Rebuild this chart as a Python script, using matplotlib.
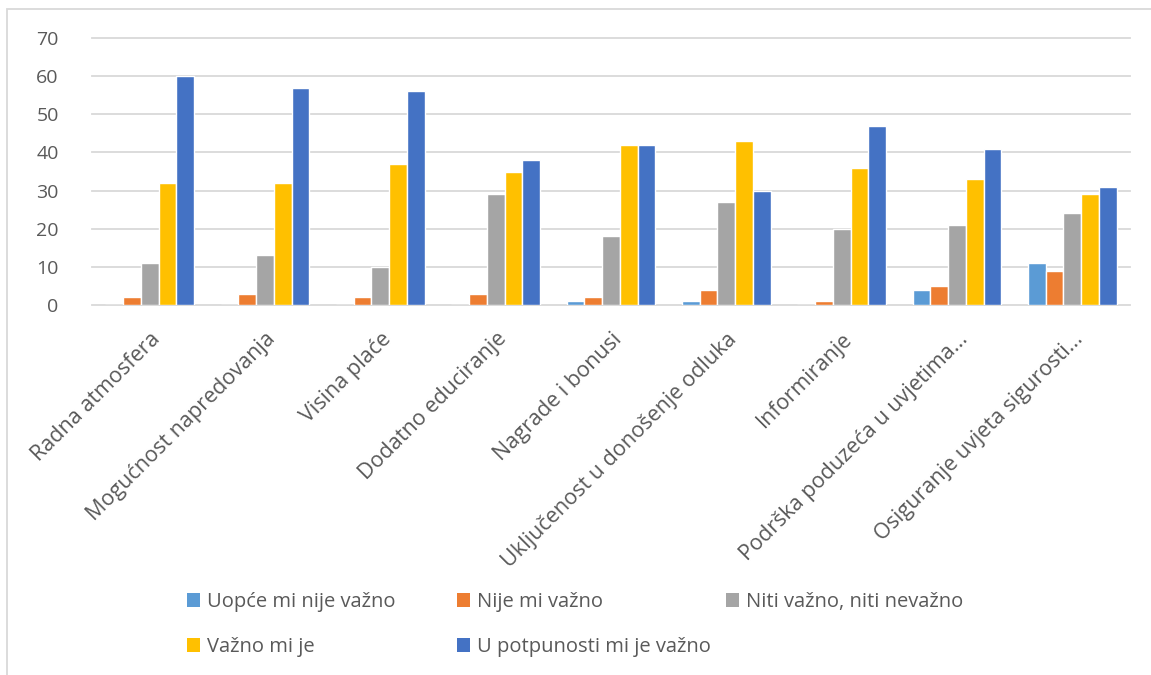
import matplotlib
matplotlib.use("Agg")
import matplotlib.pyplot as plt
import numpy as np
from matplotlib.patches import Rectangle, Patch

categories = ["Radna atmosfera", "Mogućnost napredovanja", "Visina plaće",
              "Dodatno educiranje", "Nagrade i bonusi",
              "Uključenost u donošenje odluka", "Informiranje",
              "Podrška poduzeća u uvjetima...", "Osiguranje uvjeta sigurosti..."]

series_names = ["Uopće mi nije važno", "Nije mi važno", "Niti važno, niti nevažno",
                "Važno mi je", "U potpunosti mi je važno"]

uopce = [0, 0, 0, 0, 1, 1, 0, 4, 11]
nije = [2, 3, 2, 3, 2, 4, 1, 5, 9]
niti = [11, 13, 10, 29, 18, 27, 20, 21, 24]
vazno = [32, 32, 37, 35, 42, 43, 36, 33, 29]
potpuno = [60, 57, 56, 38, 42, 30, 47, 41, 31]

colors = ["#5B9BD5", "#ED7D31", "#A5A5A5", "#FFC000", "#4472C4"]
text_col = "#595959"

plt.rcParams["font.family"] = ["Open Sans", "DejaVu Sans"]

W, H = 1151, 675
fig = plt.figure(figsize=(W / 100, H / 100), dpi=100)
ax = fig.add_axes([92 / W, 1 - 305 / H, (1130 - 92) / W, (305 - 38) / H])

# chart border (cropped on right and bottom)
fig.patches.append(Rectangle((7 / W, -0.05), 1.1, 1 - 9 / H + 0.05,
                             transform=fig.transFigure, fill=False,
                             edgecolor="#d9d9d9", linewidth=1.3))

x = np.arange(len(categories))
data = [uopce, nije, niti, vazno, potpuno]
bw = 0.1535
for k, (vals, c) in enumerate(zip(data, colors)):
    ax.bar(x + (k - 2) * bw, vals, width=bw, color=c, edgecolor="white",
           linewidth=1.0, zorder=3)

ax.set_xlim(-0.5, len(categories) - 0.5)
ax.set_ylim(0, 70)
ax.set_yticks(range(0, 71, 10))
ax.grid(axis="y", color="#d9d9d9", linewidth=1.3, zorder=0)
for ln in ax.get_ygridlines():
    ln.set_clip_on(False)
for s in ax.spines.values():
    s.set_visible(False)

ax.tick_params(axis="y", length=0, pad=24, labelsize=14, labelcolor=text_col)
ax.tick_params(axis="x", length=0, pad=17, labelsize=15.5, labelcolor=text_col)
ax.set_xticks(x)
ax.set_xticklabels(categories, rotation=45, ha="right", va="top",
                   rotation_mode="anchor")

# legend: three columns like the Excel layout
col_x = [187, 457, 726]
for j in range(3):
    idx = [i for i in (j, j + 3) if i < len(series_names)]
    handles = [Patch(facecolor=colors[i], edgecolor="none") for i in idx]
    labels = [series_names[i] for i in idx]
    fig.legend(handles, labels, loc="upper left",
               bbox_to_anchor=(col_x[j] / W, 1 - 592 / H),
               frameon=False, fontsize=14.5, handlelength=0.65, handleheight=0.65,
               handletextpad=0.35, labelspacing=1.25, borderpad=0,
               borderaxespad=0, labelcolor=text_col)

fig.savefig("out.png", dpi=100)
